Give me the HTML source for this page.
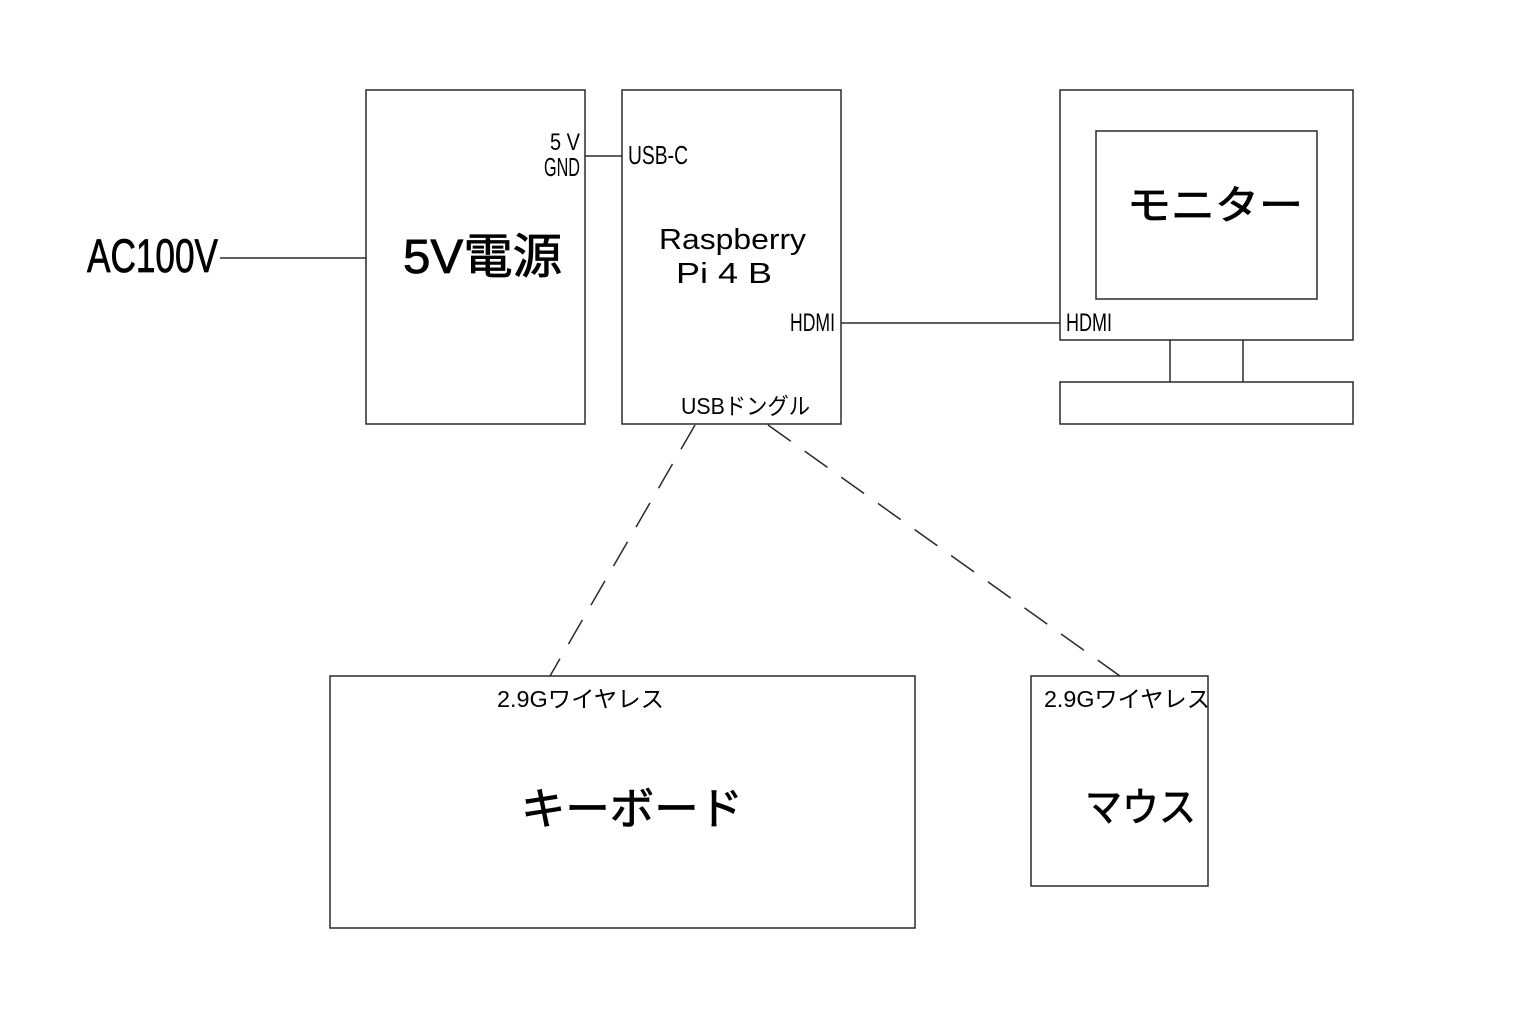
<!DOCTYPE html>
<html>
<head>
<meta charset="utf-8">
<style>
  html, body { margin: 0; padding: 0; background: #ffffff; }
  svg { display: block; }
  text { font-family: "Liberation Sans", "Noto Sans CJK JP", sans-serif; fill: #000; }
  .big { stroke: #000; stroke-width: 0.8; }
</style>
</head>
<body>
<svg width="1519" height="1018" viewBox="0 0 1519 1018" xmlns="http://www.w3.org/2000/svg">
  <g fill="none" stroke="#2a2a2a" stroke-width="1.5">
    <rect x="366" y="90" width="219" height="334"/>
    <rect x="622" y="90" width="219" height="334"/>
    <rect x="1060" y="90" width="293" height="250"/>
    <rect x="1096" y="131" width="221" height="168"/>
    <line x1="1170" y1="340" x2="1170" y2="382"/>
    <line x1="1243" y1="340" x2="1243" y2="382"/>
    <rect x="1060" y="382" width="293" height="42"/>
    <rect x="330" y="676" width="585" height="252"/>
    <rect x="1031" y="676" width="177" height="210"/>
    <line x1="220" y1="258" x2="366" y2="258"/>
    <line x1="585" y1="156" x2="622" y2="156"/>
    <line x1="841" y1="323" x2="1060" y2="323"/>
    <line x1="695" y1="425" x2="550" y2="676" stroke-dasharray="28 17"/>
    <line x1="768" y1="425" x2="1120" y2="676" stroke-dasharray="28 17"/>
  </g>

  <text class="big" x="87" y="272" font-size="47" textLength="131" lengthAdjust="spacingAndGlyphs">AC100V</text>
  <text class="big" x="403" y="273" font-size="48" textLength="159" lengthAdjust="spacingAndGlyphs">5V電源</text>

  <text x="550" y="150" font-size="24" textLength="30" lengthAdjust="spacingAndGlyphs">5 V</text>
  <text x="544" y="176" font-size="26" textLength="36" lengthAdjust="spacingAndGlyphs">GND</text>
  <text x="628" y="164" font-size="26" textLength="60" lengthAdjust="spacingAndGlyphs">USB-C</text>

  <text x="659" y="249" font-size="29" textLength="147" lengthAdjust="spacingAndGlyphs">Raspberry</text>
  <text x="676" y="283" font-size="29" textLength="96" lengthAdjust="spacingAndGlyphs">Pi 4 B</text>
  <text x="790" y="331" font-size="25" textLength="45" lengthAdjust="spacingAndGlyphs">HDMI</text>
  <text x="681" y="414" font-size="23" textLength="129" lengthAdjust="spacingAndGlyphs">USBドングル</text>

  <text class="big" x="1127" y="219" font-size="40" textLength="176" lengthAdjust="spacingAndGlyphs">モニター</text>
  <text x="1066" y="331" font-size="25" textLength="46" lengthAdjust="spacingAndGlyphs">HDMI</text>

  <text x="497" y="707" font-size="23" textLength="167" lengthAdjust="spacingAndGlyphs">2.9Gワイヤレス</text>
  <text class="big" x="521" y="824" font-size="44" textLength="222" lengthAdjust="spacingAndGlyphs">キーボード</text>

  <text x="1044" y="707" font-size="23" textLength="166" lengthAdjust="spacingAndGlyphs">2.9Gワイヤレス</text>
  <text class="big" x="1085" y="821" font-size="40" textLength="111" lengthAdjust="spacingAndGlyphs">マウス</text>
</svg>
</body>
</html>
